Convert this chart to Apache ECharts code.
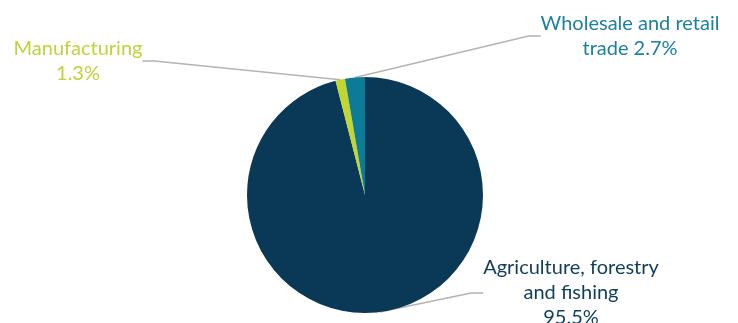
<!DOCTYPE html>
<html>
<head>
<meta charset="utf-8">
<script src="https://cdn.jsdelivr.net/npm/echarts@6/dist/echarts.min.js"></script>
<style>
  html, body { margin: 0; padding: 0; background: #fff; }
  #chart { width: 738px; height: 323px; }
</style>
</head>
<body>
<div id="chart"></div>
<script>
// sectors, clockwise from 12 o'clock
const sectors = ['Agriculture, forestry\nand fishing', 'Manufacturing', 'Wholesale and retail\ntrade']
const shares = [95.5, 1.3, 2.7]
const colors = ['#0a3957', '#c3d62e', '#0b7b98']
const textColors = ['#0f3d5c', '#bdd43a', '#1c80a0']

// label anchors (centre of the text block)
const labelSpots = [
  { x: 571, y: 293 },
  { x: 78, y: 61 },
  { x: 630, y: 36 }
]

const chart = echarts.init(document.getElementById('chart'))

chart.setOption({
  animation: false,
  series: [
    {
      type: 'pie',
      center: [365, 195],
      radius: 118,
      startAngle: 90,
      clockwise: true,
      data: sectors.map((name, i) => ({
        name: name,
        value: shares[i],
        itemStyle: { color: colors[i] },
        label: { color: textColors[i] }
      })),
      label: {
        show: true,
        position: 'outside',
        // the wholesale label keeps its share on the second line with "trade"
        formatter: p => p.dataIndex === 2 ? p.name + ' ' + p.value + '%' : p.name + '\n' + p.value + '%',
        fontFamily: 'Lato',
        fontSize: 20,
        lineHeight: 25,
        align: 'center'
      },
      labelLine: {
        show: true,
        length: 10,
        length2: 12,
        lineStyle: { color: '#b3b3b3', width: 1.5 }
      },
      labelLayout: params => {
        const spot = labelSpots[params.dataIndex]
        return { x: spot.x, y: spot.y, align: 'center', verticalAlign: 'middle' }
      }
    }
  ]
})
</script>
</body>
</html>
